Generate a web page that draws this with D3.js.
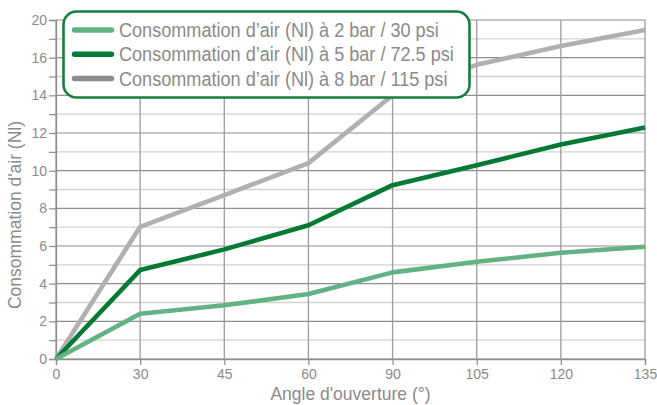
<!DOCTYPE html>
<html>
<head>
<meta charset="utf-8">
<script src="https://cdn.jsdelivr.net/npm/d3@7/dist/d3.min.js"></script>
<style>
  html, body { margin: 0; padding: 0; background: #fff; }
  svg { display: block; }
  text { font-family: "Liberation Sans", Arial, sans-serif; fill: #8a8a8a; }
</style>
</head>
<body>
<svg id="chart" width="657" height="405"></svg>
<script>
// Opening angle categories (degrees)
const angles = [0, 30, 45, 60, 90, 105, 120, 135];

// Air consumption (Nl) per pressure
const air2bar = [0, 2.4, 2.85, 3.45, 4.6, 5.16, 5.64, 5.96];
const air5bar = [0, 4.72, 5.82, 7.1, 9.23, 10.29, 11.39, 12.29];
const air8bar = [0, 7.02, 8.7, 10.4, 14.0, 15.62, 17.24, 18.94];

const seriesNames = [
  "Consommation d\u2019air (Nl) à 2 bar / 30 psi",
  "Consommation d\u2019air (Nl) à 5 bar / 72.5 psi",
  "Consommation d\u2019air (Nl) à 8 bar / 115 psi"
];
const seriesColors = ["#62b283", "#037a34", "#b0b0b3"];
const legendColors = ["#62b283", "#037a34", "#8c8c8e"];

// Y ticks: labelled majors and unlabelled minors
const yMajor = [0, 2, 4, 6, 8, 10, 12, 14, 16, 20];
const yMinor = [1, 3, 5, 7, 9, 11, 13, 15, 18];

const xTitle = "Angle d'ouverture (°)";
const yTitle = "Consommation d'air (Nl)";

const svg = d3.select("#chart");
const plotL = 56, plotR = 645, plotT = 20, plotB = 359;

const x = d3.scalePoint().domain(angles).range([plotL, plotR]);
// The top band 16–20 is compressed into one grid step
const step = (plotB - plotT) / 9;
const y = d3.scaleLinear().domain([0, 16, 20]).range([plotB, plotB - 8 * step, plotT]);

const g = svg.append("g");

// Minor horizontal grid
g.selectAll("line.minor").data(yMinor).join("line")
  .attr("class", "minor")
  .attr("x1", plotL).attr("x2", plotR)
  .attr("y1", d => y(d)).attr("y2", d => y(d))
  .attr("stroke", "#d2d2d2").attr("stroke-width", 1.3);

// Major horizontal grid
g.selectAll("line.major").data(yMajor).join("line")
  .attr("class", "major")
  .attr("x1", plotL).attr("x2", plotR)
  .attr("y1", d => y(d)).attr("y2", d => y(d))
  .attr("stroke", "#8e8e8e").attr("stroke-width", 1.2);

// Vertical grid
g.selectAll("line.vgrid").data(angles).join("line")
  .attr("class", "vgrid")
  .attr("x1", d => x(d)).attr("x2", d => x(d))
  .attr("y1", plotT).attr("y2", plotB)
  .attr("stroke", "#9c9c9c").attr("stroke-width", 1.3);

// Y axis
const yAxis = d3.axisLeft(y)
  .tickValues(yMajor.concat(yMinor))
  .tickSize(7)
  .tickPadding(2)
  .tickFormat(d => yMajor.includes(d) ? d : "");
const ya = svg.append("g").attr("transform", `translate(${plotL},0)`).call(yAxis);
ya.select(".domain").attr("stroke", "#8e8e8e").attr("stroke-width", 1.3);
ya.selectAll(".tick line").attr("stroke", "#8e8e8e").attr("stroke-width", 1.2);
ya.selectAll(".tick text").style("font-size", "14px").attr("fill", "#8a8a8a")
  .style("font-family", "'Liberation Sans', Arial, sans-serif");

// X axis
const xAxis = d3.axisBottom(x).tickSize(6).tickPadding(4);
const xa = svg.append("g").attr("transform", `translate(0,${plotB})`).call(xAxis);
xa.select(".domain").attr("stroke", "#8e8e8e").attr("stroke-width", 1.3);
xa.selectAll(".tick line").attr("stroke", "#8e8e8e").attr("stroke-width", 1.2);
xa.selectAll(".tick text").style("font-size", "14px").attr("fill", "#8a8a8a")
  .style("font-family", "'Liberation Sans', Arial, sans-serif");

// Series lines
const series = [air2bar, air5bar, air8bar];
const line = d3.line().x((d, i) => x(angles[i])).y(d => y(d));
[2, 1, 0].forEach(k => {
  svg.append("path")
    .datum(series[k])
    .attr("d", line)
    .attr("fill", "none")
    .attr("stroke", seriesColors[k])
    .attr("stroke-width", 4.6)
    .attr("stroke-linejoin", "round")
    .attr("stroke-linecap", "butt");
});

// Axis titles
svg.append("text")
  .attr("x", (plotL + plotR) / 2).attr("y", 400)
  .attr("text-anchor", "middle")
  .style("font-size", "17.5px")
  .text(xTitle);

svg.append("text")
  .attr("transform", `translate(21,215) rotate(-90)`)
  .attr("text-anchor", "middle")
  .style("font-size", "17.5px")
  .text(yTitle);

// Legend
const lg = svg.append("g");
lg.append("rect")
  .attr("x", 63.5).attr("y", 11.5).attr("width", 406).attr("height", 86)
  .attr("rx", 13).attr("ry", 13)
  .attr("fill", "#fff").attr("stroke", "#1b7d3c").attr("stroke-width", 2.6);
seriesNames.forEach((name, i) => {
  const cy = 30 + i * 24.2;
  lg.append("line")
    .attr("x1", 74.5).attr("x2", 111.5).attr("y1", cy).attr("y2", cy)
    .attr("stroke", legendColors[i]).attr("stroke-width", 5.5)
    .attr("stroke-linecap", "round");
  // Condensed rendering of the legend label
  lg.append("text")
    .attr("transform", `translate(119,${cy + 7.2}) scale(0.905,1)`)
    .style("font-size", "20px")
    .attr("fill", "#858585")
    .text(name);
});
</script>
</body>
</html>
